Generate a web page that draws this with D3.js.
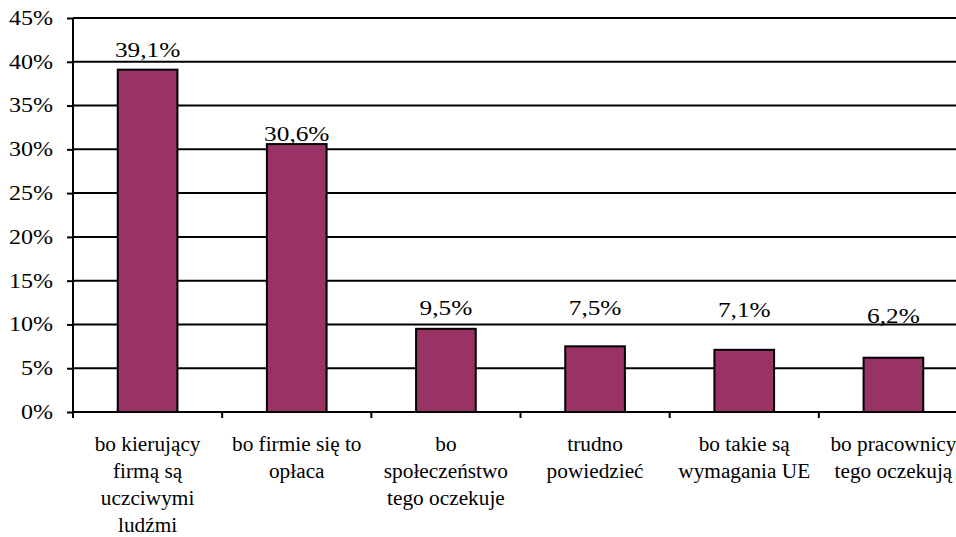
<!DOCTYPE html>
<html>
<head>
<meta charset="utf-8">
<script src="https://cdn.jsdelivr.net/npm/d3@7"></script>
<style>
body { margin:0; background:#ffffff; }
</style>
</head>
<body>
<svg id="viz" width="956" height="537"></svg>
<script>
// data
var categories = [
	["bo kierujący", "firmą są", "uczciwymi", "ludźmi"],
	["bo firmie się to", "opłaca"],
	["bo", "społeczeństwo", "tego oczekuje"],
	["trudno", "powiedzieć"],
	["bo takie są", "wymagania UE"],
	["bo pracownicy", "tego oczekują"]
];
var values = [39.1, 30.6, 9.5, 7.5, 7.1, 6.2];
var valueLabels = ["39,1%", "30,6%", "9,5%", "7,5%", "7,1%", "6,2%"];
// where the value labels sit (in % units), as placed in the original
var labelAt = [40.5, 31.0, 11.1, 11.1, 10.85, 10.15];
var yTicks = [0, 5, 10, 15, 20, 25, 30, 35, 40, 45];

var serif = "'Liberation Serif', 'Times New Roman', Times, serif";
var svg = d3.select("#viz");
var idx = d3.range(values.length);

var xScale = d3.scaleBand().domain(idx).range([73, 968]).paddingInner(0.6).paddingOuter(0.3);
var xEdges = d3.scaleLinear().domain([0, values.length]).range([73, 968]);
var yScale = d3.scaleLinear().domain([0, 45]).range([412, 18]);

// gridlines
svg.append("g").selectAll("line").data(yTicks.slice(1)).enter().append("line")
	.attr("x1", 73).attr("x2", 968)
	.attr("y1", function (d) { return yScale(d); })
	.attr("y2", function (d) { return yScale(d); })
	.attr("stroke", "#000").attr("stroke-width", 2);

// y axis
var yAxis = d3.axisLeft(yScale).tickValues(yTicks).tickSize(6).tickPadding(14)
	.tickFormat(function (d) { return d + "%"; });
var gy = svg.append("g").attr("transform", "translate(73,0)").call(yAxis);
gy.attr("font-family", null).attr("font-size", null);
gy.select(".domain").attr("stroke-width", 2).attr("d", "M0," + yScale(45) + "V" + yScale(0));
gy.selectAll(".tick line").attr("stroke-width", 2);
gy.selectAll(".tick text").style("font-family", serif).style("font-size", "20px").attr("fill", "#000")
	.attr("transform", "scale(1.2,1)").attr("x", -20 / 1.2);

// x axis line and ticks at category edges
svg.append("line").attr("x1", 73).attr("x2", 968).attr("y1", yScale(0)).attr("y2", yScale(0))
	.attr("stroke", "#000").attr("stroke-width", 2);
svg.append("g").selectAll("line").data(d3.range(values.length + 1)).enter().append("line")
	.attr("x1", function (d) { return xEdges(d); })
	.attr("x2", function (d) { return xEdges(d); })
	.attr("y1", yScale(0)).attr("y2", yScale(0) + 6)
	.attr("stroke", "#000").attr("stroke-width", 2);

// bars
svg.append("g").selectAll("rect").data(idx).enter().append("rect")
	.attr("x", function (i) { return xScale(i); })
	.attr("width", xScale.bandwidth())
	.attr("y", function (i) { return yScale(values[i]); })
	.attr("height", function (i) { return yScale(0) - yScale(values[i]); })
	.attr("fill", "#993366").attr("stroke", "#000").attr("stroke-width", 2);

// value labels
svg.append("g").selectAll("text").data(idx).enter().append("text")
	.attr("transform", function (i) {
		return "translate(" + (xScale(i) + xScale.bandwidth() / 2) + "," + yScale(labelAt[i]) + ")scale(1.15,1)";
	})
	.attr("text-anchor", "middle").style("font-family", serif).style("font-size", "22px")
	.text(function (i) { return valueLabels[i]; });

// category labels
var cat = svg.append("g").selectAll("text").data(idx).enter().append("text")
	.attr("text-anchor", "middle").style("font-family", serif).style("font-size", "21.3px")
	.attr("transform", function (i) {
		return "translate(" + (xScale(i) + xScale.bandwidth() / 2) + ",451)";
	});
cat.selectAll("tspan").data(function (i) { return categories[i]; }).enter().append("tspan")
	.attr("x", 0).attr("y", function (d, j) { return j * 27; })
	.text(function (d) { return d; });
</script>
</body>
</html>
